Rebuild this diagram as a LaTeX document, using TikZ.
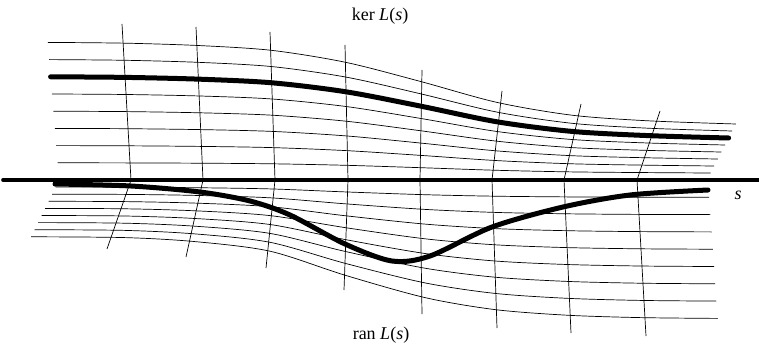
\documentclass[tikz,border=0pt]{standalone}
\usepackage{fontspec}
\setmainfont{Liberation Serif}
\begin{document}
\begin{tikzpicture}[x=1pt,y=-1pt,
  gridline/.style={line width=0.7pt},
  bold/.style={line width=5pt,line cap=round},
  every node/.style={font=\fontsize{18}{20}\selectfont}]
\useasboundingbox (0,0) rectangle (759,350);
% ker L(s) family
\foreach \k/\s in {1/gridline,2/gridline,3/gridline,4/gridline,5/gridline,6/bold,7/gridline,8/gridline}
  \draw[\s] plot[smooth] coordinates {({59-1.4*\k},{180-17.2*\k}) (126,{180-17.1*\k}) (200,{180-16.8*\k}) (272,{180-16.2*\k}) (346,{180-14.7*\k}) (421,{180-12.3*\k}) (497,{180-9.7*\k}) (572,{180-8.1*\k}) (648,{180-7.4*\k}) ({707+3.6*\k},{180-7*\k})};
% ran L(s) family
\foreach \k in {1,...,8}
  \draw[gridline] plot[smooth] coordinates {({59-3.5*\k},{180+7.1*\k}) (125,{180+7.2*\k}) (195,{180+7.7*\k}) (270,{180+8.9*\k}) (345,{180+11.9*\k}) (425,{180+14.7*\k}) (495,{180+16.2*\k}) (567,{180+16.9*\k}) (640,{180+17.2*\k}) ({708+1.2*\k},{180+17.3*\k})};
% transversals
\foreach \i/\tx/\ty/\ax/\bx/\by in {1/122/24/131/107/249,2/196/27/203/186/257,3/270/32/275/266/268,4/345/45/348/344/290,5/422/70/420/422/314,6/502/91/492/497/328,7/581/104/564/571/333,8/660/111/637/646/336}{
  \coordinate (t\i) at (\tx,\ty);
  \coordinate (a\i) at (\ax,180);
  \coordinate (b\i) at (\bx,\by);
  \draw[gridline] (t\i) -- (a\i) -- (b\i);
}
% the curve below
\draw[bold] plot[smooth] coordinates {(55,184) (131,186) (200,192) (250,201) (290,215) (345,244) (392,261) (430,256) (492,227) (563,207) (630,195) (708,190)};
% axis
\coordinate (o) at (3,180);
\coordinate (e) at (759,180);
\draw[line width=3.6pt,line cap=round] (o) -- (e);
\node (s) at (738,195) {\textit{s}};
\node (ker) at (380,16) {ker \textit{L}(\textit{s})};
\node (ran) at (381,335) {ran \textit{L}(\textit{s})};
\end{tikzpicture}
\end{document}
